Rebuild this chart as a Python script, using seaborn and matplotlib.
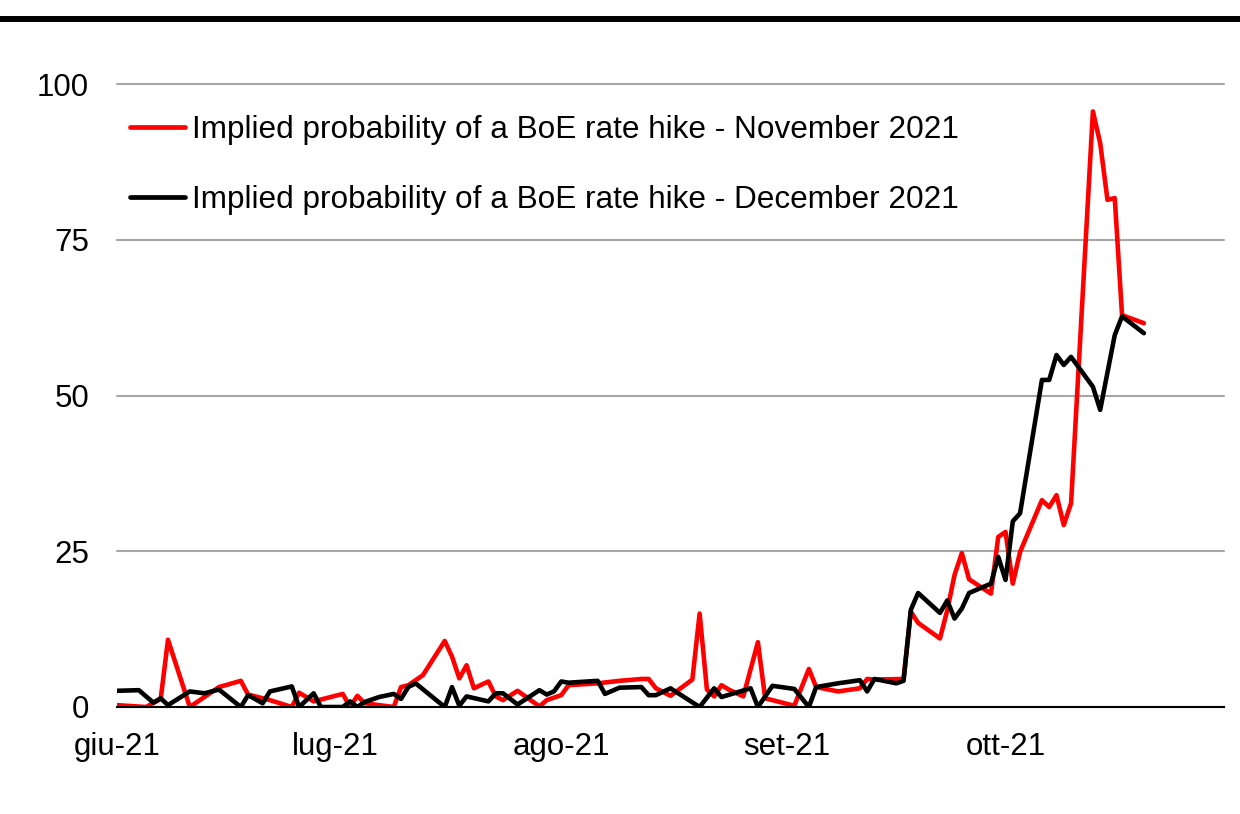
import matplotlib
matplotlib.use("Agg")
import matplotlib.pyplot as plt
import seaborn as sns
import pandas as pd
from matplotlib.lines import Line2D

series_labels = [
    "Implied probability of a BoE rate hike - November 2021",
    "Implied probability of a BoE rate hike - December 2021",
]

nov_dates = [
    "2021-06-01", "2021-06-05", "2021-06-07", "2021-06-08", "2021-06-11", "2021-06-15",
    "2021-06-18", "2021-06-19", "2021-06-22", "2021-06-25", "2021-06-26", "2021-06-28",
    "2021-07-02", "2021-07-03", "2021-07-04", "2021-07-05", "2021-07-07", "2021-07-09",
    "2021-07-10", "2021-07-11", "2021-07-13", "2021-07-16", "2021-07-17", "2021-07-18",
    "2021-07-19", "2021-07-20", "2021-07-22", "2021-07-23", "2021-07-24", "2021-07-26",
    "2021-07-29", "2021-07-30", "2021-08-01", "2021-08-02", "2021-08-06", "2021-08-09",
    "2021-08-12", "2021-08-13", "2021-08-14", "2021-08-16", "2021-08-19", "2021-08-20",
    "2021-08-21", "2021-08-22", "2021-08-23", "2021-08-24", "2021-08-26", "2021-08-28",
    "2021-08-29", "2021-09-02", "2021-09-04", "2021-09-05", "2021-09-08", "2021-09-11",
    "2021-09-12", "2021-09-13", "2021-09-17", "2021-09-18", "2021-09-19", "2021-09-22",
    "2021-09-23", "2021-09-24", "2021-09-25", "2021-09-26", "2021-09-29", "2021-09-30",
    "2021-10-01", "2021-10-02", "2021-10-03", "2021-10-06", "2021-10-07", "2021-10-08",
    "2021-10-09", "2021-10-10", "2021-10-13", "2021-10-14", "2021-10-15", "2021-10-16",
    "2021-10-17", "2021-10-20",
]
nov_values = [
    0.3, 0.0, 1.3, 10.8, 0.0, 3.2,
    4.2, 2.0, 1.1, 0.0, 2.3, 0.9,
    2.1, 0.0, 1.8, 0.6, 0.3, 0.0,
    3.2, 3.5, 5.1, 10.6, 8.1, 4.6,
    6.7, 3.0, 4.1, 1.7, 1.1, 2.6,
    0.1, 1.1, 1.9, 3.5, 3.8, 4.2,
    4.5, 4.5, 3.0, 1.8, 4.4, 15.0,
    2.8, 1.7, 3.5, 2.8, 1.7, 10.4,
    1.4, 0.2, 6.1, 3.2, 2.5, 3.0,
    4.5, 4.4, 4.5, 15.3, 13.5, 11.0,
    15.5, 21.2, 24.7, 20.5, 18.2, 27.3,
    28.1, 19.8, 24.9, 33.2, 32.1, 34.0,
    29.2, 32.7, 95.6, 90.5, 81.4, 81.7,
    62.9, 61.6,
]

dec_dates = [
    "2021-06-01", "2021-06-04", "2021-06-06", "2021-06-07", "2021-06-08", "2021-06-11",
    "2021-06-13", "2021-06-15", "2021-06-18", "2021-06-19", "2021-06-21", "2021-06-22",
    "2021-06-25", "2021-06-26", "2021-06-28", "2021-06-29", "2021-07-02", "2021-07-03",
    "2021-07-04", "2021-07-05", "2021-07-07", "2021-07-09", "2021-07-10", "2021-07-11",
    "2021-07-12", "2021-07-16", "2021-07-17", "2021-07-18", "2021-07-19", "2021-07-22",
    "2021-07-23", "2021-07-24", "2021-07-26", "2021-07-29", "2021-07-30", "2021-07-31",
    "2021-08-01", "2021-08-02", "2021-08-06", "2021-08-07", "2021-08-09", "2021-08-12",
    "2021-08-13", "2021-08-14", "2021-08-16", "2021-08-20", "2021-08-22", "2021-08-23",
    "2021-08-27", "2021-08-28", "2021-08-30", "2021-09-02", "2021-09-04", "2021-09-05",
    "2021-09-08", "2021-09-11", "2021-09-12", "2021-09-13", "2021-09-16", "2021-09-17",
    "2021-09-18", "2021-09-19", "2021-09-22", "2021-09-23", "2021-09-24", "2021-09-25",
    "2021-09-26", "2021-09-29", "2021-09-30", "2021-10-01", "2021-10-02", "2021-10-03",
    "2021-10-06", "2021-10-07", "2021-10-08", "2021-10-09", "2021-10-10", "2021-10-13",
    "2021-10-14", "2021-10-16", "2021-10-17", "2021-10-20",
]
dec_values = [
    2.6, 2.7, 0.7, 1.4, 0.3, 2.5,
    2.2, 2.8, 0.0, 1.9, 0.6, 2.5,
    3.3, 0.0, 2.2, 0.0, 0.0, 0.9,
    0.0, 0.8, 1.6, 2.1, 1.3, 3.2,
    3.8, 0.0, 3.2, 0.2, 1.7, 0.9,
    2.2, 2.2, 0.4, 2.7, 2.0, 2.5,
    4.1, 3.9, 4.2, 2.1, 3.1, 3.2,
    1.9, 1.9, 3.0, 0.0, 3.0, 1.6,
    3.0, 0.0, 3.4, 2.9, 0.0, 3.2,
    3.8, 4.3, 2.5, 4.5, 3.8, 4.2,
    15.6, 18.3, 15.1, 17.1, 14.2, 15.8,
    18.3, 19.8, 24.1, 20.4, 29.8, 31.1,
    52.5, 52.5, 56.5, 54.9, 56.2, 51.4,
    47.7, 59.7, 62.7, 60.0,
]

tick_dates = ["2021-06-01", "2021-07-01", "2021-08-01", "2021-09-01", "2021-10-01"]
tick_labels = ["giu-21", "lug-21", "ago-21", "set-21", "ott-21"]
y_ticks = [0, 25, 50, 75, 100]

df = pd.concat([
    pd.DataFrame({"date": pd.to_datetime(nov_dates), "value": nov_values, "series": series_labels[0]}),
    pd.DataFrame({"date": pd.to_datetime(dec_dates), "value": dec_values, "series": series_labels[1]}),
], ignore_index=True)

sns.set_style("white")
plt.rcParams["font.family"] = ["Liberation Sans", "DejaVu Sans"]
plt.rcParams["text.color"] = "black"

W, H = 1240, 814
fig = plt.figure(figsize=(W / 100, H / 100), dpi=100)
ax = fig.add_axes([117 / W, 1 - 707 / H, (1224 - 117) / W, (707 - 84) / H])

sns.lineplot(data=df, x="date", y="value", hue="series", hue_order=series_labels,
             palette=["#ff0000", "#000000"], linewidth=3.3, ax=ax, estimator=None)

ax.set_xlim(pd.Timestamp("2021-06-01"), pd.Timestamp("2021-10-31"))
ax.set_ylim(0, 100)
ax.set_yticks(y_ticks)
ax.set_yticklabels([str(v) for v in y_ticks])
ax.set_xticks(pd.to_datetime(tick_dates))
ax.set_xticklabels(tick_labels)
ax.set_xlabel("")
ax.set_ylabel("")

ax.yaxis.grid(True, color="#a6a6a6", linewidth=1.5)
for gl in ax.get_ygridlines():
    gl.set_clip_on(False)
ax.xaxis.grid(False)
ax.set_axisbelow(True)
for s in ["top", "right", "left"]:
    ax.spines[s].set_visible(False)
ax.spines["bottom"].set_color("black")
ax.spines["bottom"].set_linewidth(1.5)
ax.tick_params(axis="both", length=0, labelsize=22.5, colors="black")
ax.tick_params(axis="y", pad=20)
ax.tick_params(axis="x", pad=18)

handles, labels = ax.get_legend_handles_labels()
leg = ax.legend(handles, labels, loc="upper left", bbox_to_anchor=(0.012, 0.95),
                frameon=False, fontsize=22.7, handlelength=1.75, handletextpad=0.2,
                labelspacing=1.25, borderaxespad=0, borderpad=0)
for line in leg.get_lines():
    line.set_linewidth(3.4)
for t in leg.get_texts():
    t.set_color("black")

fig.add_artist(Line2D([0, 1], [1 - 19 / H, 1 - 19 / H], transform=fig.transFigure,
                      color="black", linewidth=4.3))

fig.savefig("out.png", dpi=100)
